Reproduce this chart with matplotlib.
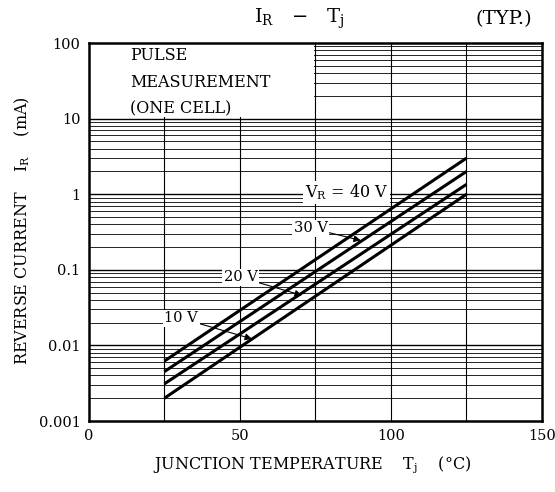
import numpy as np
import matplotlib
matplotlib.use("Agg")
import matplotlib.pyplot as plt
from matplotlib.patches import Rectangle
from matplotlib.ticker import FixedLocator, FixedFormatter

plt.rcParams['font.family'] = ['DejaVu Serif']
plt.rcParams['mathtext.fontset'] = 'dejavuserif'

# Junction temperature end points (deg C) and reverse current (mA) per V_R
tj = [25, 125]
ir_40v = [0.0062, 3.0]
ir_30v = [0.0045, 2.0]
ir_20v = [0.0031, 1.35]
ir_10v = [0.0020, 1.0]

xticks = [0, 50, 100, 150]
yticks = [0.001, 0.01, 0.1, 1, 10, 100]
ytick_labels = ["0.001", "0.01", "0.1", "1", "10", "100"]

fig = plt.figure(figsize=(5.55, 4.92), dpi=100)
ax = fig.add_axes([0.160, 0.1443, 0.8166, 0.7683])

ax.set_yscale("log")
ax.set_xlim(0, 150)
ax.set_ylim(0.001, 100)

# grid: decades + 2..9 inside each decade, verticals every 25 C
minor_y = [m * 10.0**e for e in range(-3, 2) for m in range(2, 10)]
for v in minor_y:
    ax.axhline(v, color="black", lw=0.6, zorder=0.5)
for v in yticks[1:-1]:
    ax.axhline(v, color="black", lw=1.0, zorder=0.5)
for v in [25, 50, 75, 100, 125]:
    ax.axvline(v, color="black", lw=0.8, zorder=0.5)

# white note box in the upper left corner
ax.add_patch(Rectangle((0, 10.6), 74.6, 100, facecolor="white",
                       edgecolor="none", zorder=1))
ax.text(13.7, 88, "PULSE\nMEASUREMENT\n(ONE CELL)", fontsize=11.5,
        va="top", ha="left", linespacing=1.72, zorder=3)

for ir in [ir_40v, ir_30v, ir_20v, ir_10v]:
    ax.plot(tj, ir, color="black", lw=2.2, solid_capstyle="butt", zorder=2)

box = dict(facecolor="white", edgecolor="none", pad=1.0)
ax.text(85.3, 1.06, r"$\mathregular{V_R}$ = 40 V", fontsize=11.5,
        ha="center", va="center", bbox=box, zorder=3)
arrow = dict(arrowstyle="-|>", color="black", lw=0.8, mutation_scale=10,
             shrinkA=0, shrinkB=0)
ax.annotate("30 V", xy=(90, 0.245), xytext=(73.5, 0.355), fontsize=10.5,
            ha="center", va="center", bbox=box, arrowprops=arrow, zorder=3)
ax.annotate("20 V", xy=(70.5, 0.046), xytext=(50.2, 0.0795), fontsize=10.5,
            ha="center", va="center", bbox=box, arrowprops=arrow, zorder=3)
ax.annotate("10 V", xy=(54, 0.0122), xytext=(30.6, 0.0228), fontsize=10.5,
            ha="center", va="center", bbox=box, arrowprops=arrow, zorder=3)

ax.xaxis.set_major_locator(FixedLocator(xticks))
ax.yaxis.set_major_locator(FixedLocator(yticks))
ax.yaxis.set_major_formatter(FixedFormatter(ytick_labels))
ax.yaxis.set_minor_locator(FixedLocator([]))
ax.tick_params(axis="both", which="both", length=0, labelsize=10.5, pad=6)
for s in ax.spines.values():
    s.set_linewidth(1.8)
    s.set_zorder(4)

fig.text(0.539, 0.961, r"$\mathregular{I_R}$   $-$   $\mathregular{T_j}$",
         fontsize=14, ha="center", va="center")
fig.text(0.959, 0.961, "(TYP.)", fontsize=14, ha="right", va="center")
fig.text(0.562, 0.055,
         r"JUNCTION TEMPERATURE    $\mathregular{T_j}$    (°C)",
         fontsize=11.5, ha="center", va="center")
fig.text(0.041, 0.532, r"REVERSE CURRENT    $\mathregular{I_R}$    (mA)",
         fontsize=11.5, ha="center", va="center", rotation=90)

fig.savefig("out.png", dpi=100, facecolor="white")
